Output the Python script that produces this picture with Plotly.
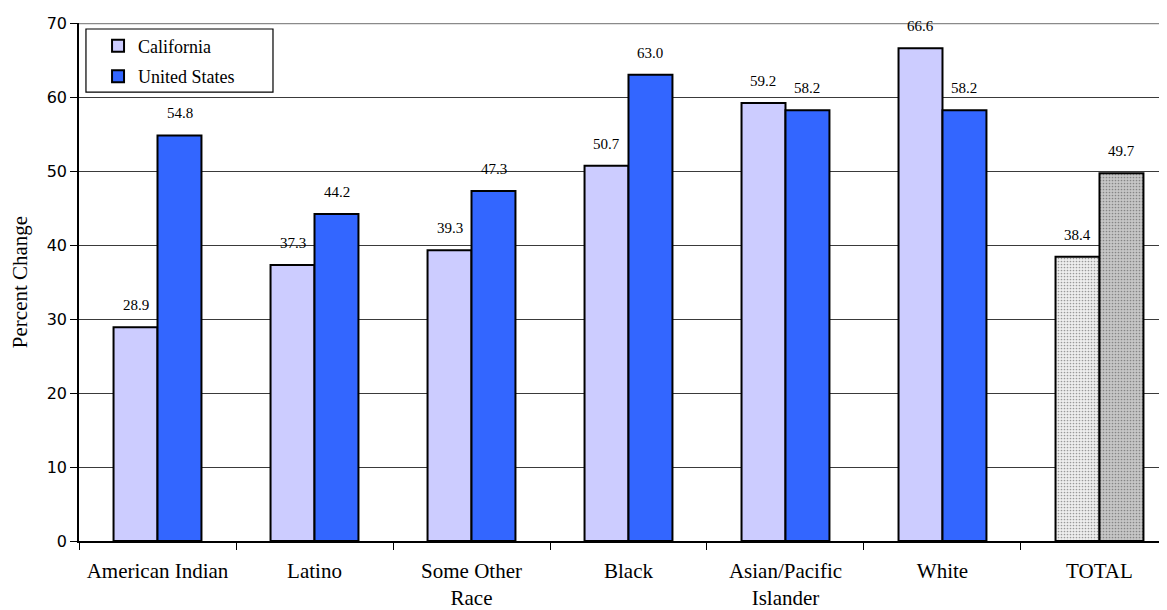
import plotly.graph_objects as go

categories = ["American Indian", "Latino", "Some Other<br>Race", "Black",
              "Asian/Pacific<br>Islander", "White", "TOTAL"]
california = [28.9, 37.3, 39.3, 50.7, 59.2, 66.6, 38.4]
united_states = [54.8, 44.2, 47.3, 63.0, 58.2, 58.2, 49.7]
y_ticks = [0, 10, 20, 30, 40, 50, 60, 70]

SERIF = "Liberation Serif, Times New Roman, serif"
SANS = "DejaVu Sans, sans-serif"

ca_colors = ["#CCCCFF"] * 6 + ["#EEEEEE"]
us_colors = ["#3366FF"] * 6 + ["#C6C6C6"]
ca_fg = ["#CCCCFF"] * 6 + ["#D9D9D9"]
us_fg = ["#3366FF"] * 6 + ["#A0A0A0"]
shapes_pat = [""] * 6 + ["."]

fig = go.Figure()
fig.add_trace(go.Bar(
    name="California", x=categories, y=california, legendgroup="ca",
    marker=dict(color=ca_colors, line=dict(color="black", width=2),
                pattern=dict(shape=shapes_pat, fillmode="overlay",
                             fgcolor=ca_fg, size=3, solidity=0.25)),
))
fig.add_trace(go.Bar(
    name="United States", x=categories, y=united_states, legendgroup="us",
    marker=dict(color=us_colors, line=dict(color="black", width=2),
                pattern=dict(shape=shapes_pat, fillmode="overlay",
                             fgcolor=us_fg, size=3, solidity=0.25)),
))

annotations = []
for i, v in enumerate(california):
    annotations.append(dict(x=i, y=v, xref="x", yref="y", text=f"{v:.1f}",
                            showarrow=False, xshift=-22, yshift=12,
                            yanchor="bottom",
                            font=dict(family=SERIF, size=15, color="black")))
for i, v in enumerate(united_states):
    annotations.append(dict(x=i, y=v, xref="x", yref="y", text=f"{v:.1f}",
                            showarrow=False, xshift=22, yshift=12,
                            yanchor="bottom",
                            font=dict(family=SERIF, size=15, color="black")))

shapes = [
    dict(type="line", xref="paper", yref="y", x0=0, x1=1, y0=70, y1=70,
         line=dict(color="#8A8A8A", width=2.5), layer="above"),
    dict(type="rect", xref="paper", yref="paper", x0=0.0064, x1=0.1783,
         y0=0.8667, y1=0.9884, line=dict(color="black", width=1.2),
         fillcolor="white", layer="below"),
]

# page has an 8px body margin, so the figure is sized/offset to compensate
fig.update_layout(
    width=1159, height=602,
    margin=dict(l=71, r=0, t=15, b=69, autoexpand=False),
    paper_bgcolor="white", plot_bgcolor="white",
    barmode="group", bargap=0.44, bargroupgap=0,
    font=dict(family=SERIF, color="black"),
    showlegend=True,
    legend=dict(x=0.0175, y=0.991, xanchor="left", yanchor="top",
                bgcolor="rgba(0,0,0,0)", borderwidth=0,
                font=dict(family=SERIF, size=18, color="black"),
                traceorder="grouped", tracegroupgap=4, itemwidth=30),
    annotations=annotations,
    shapes=shapes,
)
fig.update_xaxes(
    type="category", range=[-0.5, 6.43], automargin=False,
    tickson="boundaries", ticks="outside", ticklen=7, tickcolor="black",
    tickwidth=1, showline=True, linecolor="black", linewidth=1.5,
    showgrid=False, zeroline=False, ticklabelstandoff=10,
    tickfont=dict(family=SERIF, size=21, color="black"),
)
fig.update_yaxes(
    range=[0, 70], tickvals=y_ticks, ticks="outside", ticklen=7,
    automargin=False,
    tickcolor="black", tickwidth=1, showline=True, linecolor="black",
    linewidth=1.5, showgrid=True, gridcolor="#3A3A3A", gridwidth=1,
    zeroline=False,
    tickfont=dict(family=SANS, size=16, color="black"),
    title=dict(text="Percent Change", standoff=15,
               font=dict(family=SERIF, size=21, color="black")),
)

fig.write_html("out.html")
